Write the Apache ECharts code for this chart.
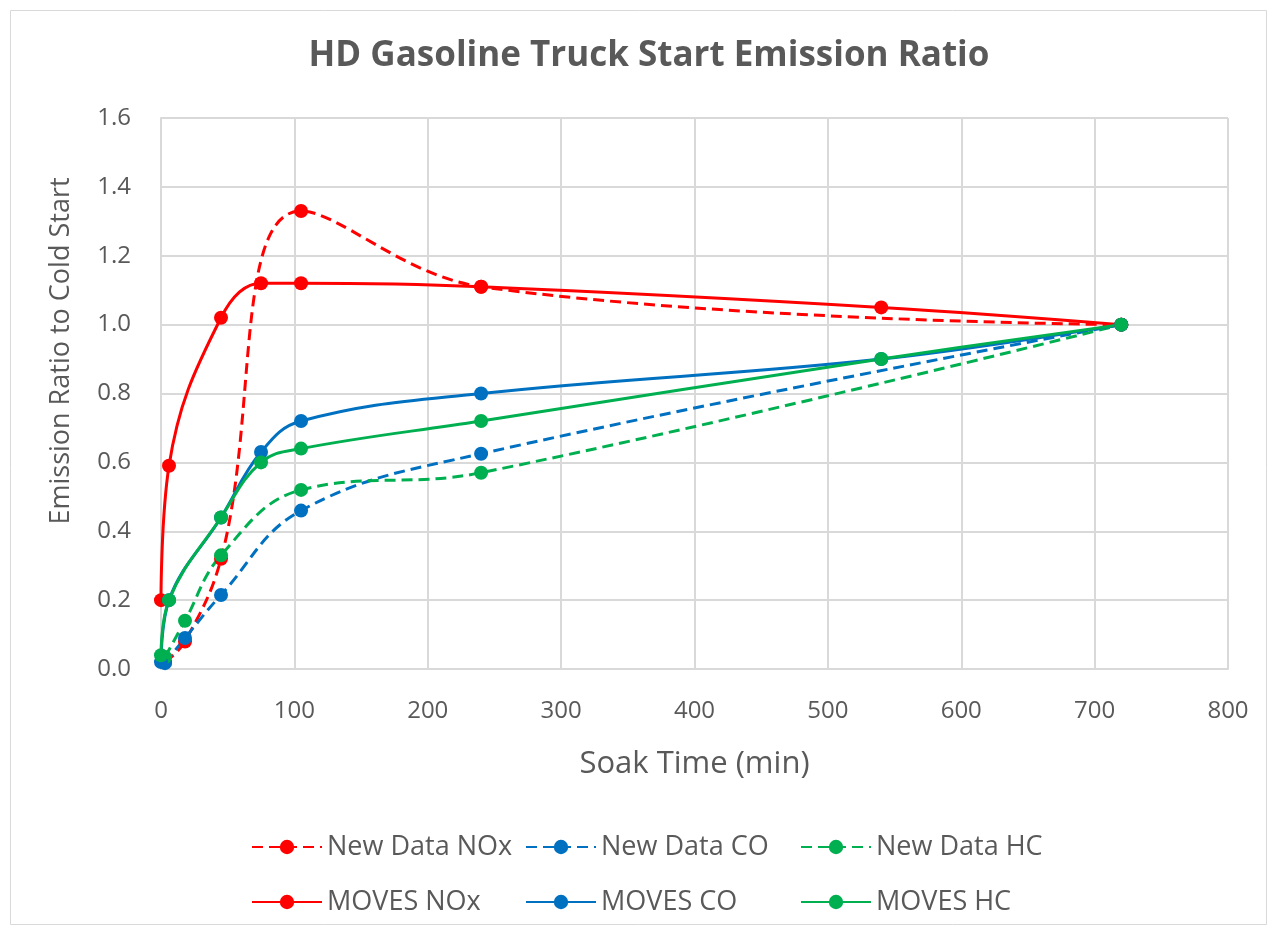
<!DOCTYPE html>
<html>
<head>
<meta charset="utf-8">
<script src="https://cdn.jsdelivr.net/npm/echarts@6/dist/echarts.min.js"></script>
<style>
html,body{margin:0;padding:0;background:#fff;}
#chart{width:1277px;height:930px;}
</style>
</head>
<body>
<div id="chart"></div>
<script>
// ---- data ----
const xNew = [3, 18, 45, 105, 240, 720];
const newNOx = [0.02, 0.08, 0.32, 1.33, 1.11, 1.00];
const newCO  = [0.017, 0.09, 0.215, 0.46, 0.625, 1.00];
const newHC  = [0.035, 0.14, 0.33, 0.52, 0.57, 1.00];

const xMoves = [0, 6, 45, 75, 105, 240, 540, 720];
const movesNOx = [0.20, 0.59, 1.02, 1.12, 1.12, 1.11, 1.05, 1.00];
const movesCO  = [0.02, 0.20, 0.44, 0.63, 0.72, 0.80, 0.90, 1.00];
const movesHC  = [0.04, 0.20, 0.44, 0.60, 0.64, 0.72, 0.90, 1.00];

const seriesNames = ['New Data NOx', 'New Data CO', 'New Data HC', 'MOVES NOx', 'MOVES CO', 'MOVES HC'];
const titleText = 'HD Gasoline Truck Start Emission Ratio';
const xAxisTitle = 'Soak Time (min)';
const yAxisTitle = 'Emission Ratio to Cold Start';

// ---- styling ----
const RED = '#FF0000', BLUE = '#0070C0', GREEN = '#00B050';
const TXT = '#595959';
const FONT = 'Open Sans';
const GRIDC = '#D9D9D9';

function pairs(xs, ys) { return xs.map((x, i) => [x, ys[i]]); }

function mkSeries(name, xs, ys, color, dashed) {
  return {
    name: name,
    type: 'line',
    data: pairs(xs, ys),
    smooth: 0.4,
    symbol: 'circle',
    symbolSize: 14,
    showSymbol: true,
    clip: false,
    itemStyle: { color: color },
    lineStyle: { color: color, width: 3, type: dashed ? [11, 6] : 'solid' },
    emphasis: { disabled: true },
    animation: false
  };
}

const series = [
  mkSeries(seriesNames[0], xNew, newNOx, RED, true),
  mkSeries(seriesNames[1], xNew, newCO, BLUE, true),
  mkSeries(seriesNames[2], xNew, newHC, GREEN, true),
  mkSeries(seriesNames[3], xMoves, movesNOx, RED, false),
  mkSeries(seriesNames[4], xMoves, movesCO, BLUE, false),
  mkSeries(seriesNames[5], xMoves, movesHC, GREEN, false)
];

const legendLefts = [246, 520, 795];
const legendRowCenters = [842, 897];
const legends = seriesNames.map((n, i) => ({
  data: [n],
  left: legendLefts[i % 3],
  top: legendRowCenters[Math.floor(i / 3)] - 15,
  itemWidth: 70,
  itemHeight: 18,
  itemGap: 0,
  selectedMode: false,
  textStyle: { color: TXT, fontFamily: FONT, fontSize: 27, lineHeight: 30 }
}));

const chart = echarts.init(document.getElementById('chart'), null, { renderer: 'canvas' });
chart.setOption({
  animation: false,
  backgroundColor: '#fff',
  title: {
    text: titleText,
    left: 649,
    textAlign: 'center',
    top: 39,
    padding: 0,
    textStyle: { color: TXT, fontFamily: FONT, fontSize: 35, fontWeight: 'bold' }
  },
  graphic: [
    { type: 'rect', shape: { x: 10.5, y: 10.5, width: 1256, height: 914 },
      style: { fill: null, stroke: '#D9D9D9', lineWidth: 1 }, silent: true, z: -10 },
    { type: 'text', x: 61, y: 351, rotation: Math.PI / 2,
      style: { text: yAxisTitle, fill: TXT, font: '27px "Open Sans"', textAlign: 'center', textVerticalAlign: 'middle' } }
  ],
  legend: legends,
  grid: { left: 161, right: 49, top: 118, bottom: 261, containLabel: false },
  xAxis: {
    type: 'value', min: 0, max: 800, interval: 100,
    name: xAxisTitle, nameLocation: 'middle', nameGap: 80,
    nameTextStyle: { color: TXT, fontFamily: FONT, fontSize: 31 },
    axisLine: { show: true, lineStyle: { color: GRIDC, width: 2 } },
    axisTick: { show: false },
    axisLabel: { color: TXT, fontFamily: FONT, fontSize: 24, margin: 30 },
    splitLine: { show: true, lineStyle: { color: GRIDC, width: 2 } }
  },
  yAxis: {
    type: 'value', min: 0, max: 1.6, interval: 0.2,
    axisLine: { show: true, lineStyle: { color: GRIDC, width: 2 } },
    axisTick: { show: false },
    axisLabel: { color: TXT, fontFamily: FONT, fontSize: 24, margin: 30, formatter: v => v.toFixed(1) },
    splitLine: { show: true, lineStyle: { color: GRIDC, width: 2 } }
  },
  series: series
});
</script>
</body>
</html>
